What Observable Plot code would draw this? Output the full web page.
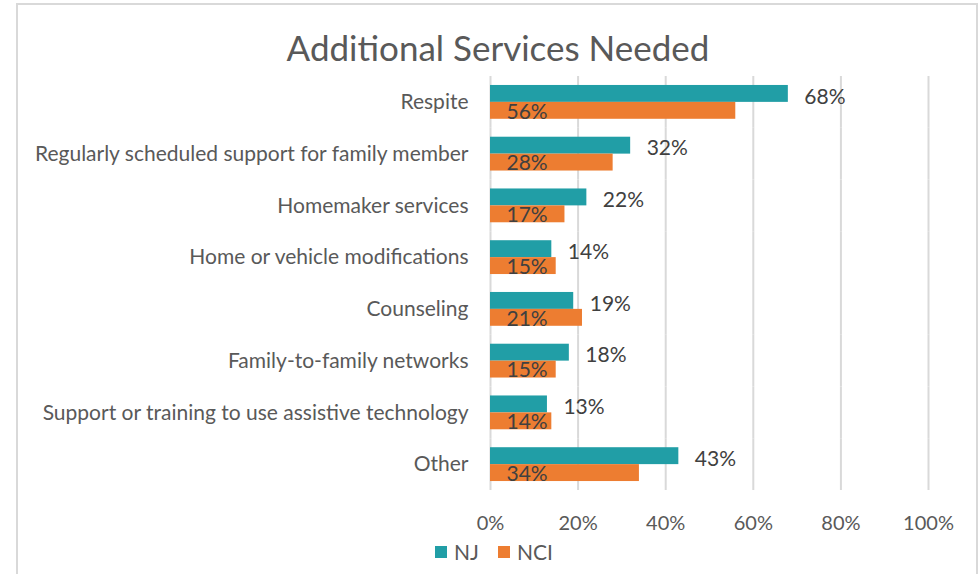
<!DOCTYPE html>
<html>
<head>
<meta charset="utf-8">
<script src="https://cdn.jsdelivr.net/npm/d3@7"></script>
<script src="https://cdn.jsdelivr.net/npm/@observablehq/plot@0.6"></script>
<style>
  html, body { margin: 0; padding: 0; background: #fff; }
  #wrap { position: relative; width: 978px; height: 574px; overflow: hidden; font-family: Lato, "Open Sans", sans-serif; }
  #frame { position: absolute; left: 16px; top: 3px; width: 958px; height: 620px; border: 2px solid #d9d9d9; border-bottom: none; }
  #title { position: absolute; left: 0; width: 996px; top: 27px; text-align: center; font-size: 35px; color: #595959; line-height: 40px; }
  #chart { position: absolute; left: 0; top: 0; }
  #legend { position: absolute; left: 435px; top: 539px; display: flex; align-items: center; font-size: 21px; color: #595959; }
  .sw { width: 12px; height: 12px; display: inline-block; margin-right: 7px; }
  .item { display: flex; align-items: center; margin-right: 19px; }
</style>
</head>
<body>
<div id="wrap">
  <div id="frame"></div>
  <div id="chart"></div>
  <div id="title">Additional Services Needed</div>
  <div id="legend"></div>
</div>
<script>
const categories = [
  "Respite",
  "Regularly scheduled support for family member",
  "Homemaker services",
  "Home or vehicle modifications",
  "Counseling",
  "Family-to-family networks",
  "Support or training to use assistive technology",
  "Other"
];
const seriesNames = ["NJ", "NCI"];
const seriesColors = ["#219EA6", "#ED7D31"];
const njValues  = [0.68, 0.32, 0.22, 0.14, 0.19, 0.18, 0.13, 0.43];
const nciValues = [0.56, 0.28, 0.17, 0.15, 0.21, 0.15, 0.14, 0.34];
const xTicks = [0, 0.2, 0.4, 0.6, 0.8, 1.0];

const data = categories.flatMap((c, i) => [
  {category: c, series: "NJ", value: njValues[i]},
  {category: c, series: "NCI", value: nciValues[i]}
]);
const pct = d3.format(".0%");

const chart = Plot.plot({
  width: 978,
  height: 540,
  marginLeft: 490,
  marginRight: 50,
  marginTop: 76,
  marginBottom: 50,
  style: {fontFamily: "Lato, 'Open Sans', sans-serif", fontSize: "20px", color: "#595959", background: "transparent"},
  x: {domain: [0, 1], ticks: xTicks},
  fy: {domain: categories, padding: 0, round: false, label: null},
  y: {domain: seriesNames, paddingInner: 0, paddingOuter: 0.53, round: false, axis: null},
  color: {domain: seriesNames, range: seriesColors},
  marks: [
    Plot.gridX(xTicks, {stroke: "#d9d9d9", strokeOpacity: 1, strokeWidth: 2}),
    Plot.barX(data, {fy: "category", y: "series", x: "value", fill: "series"}),
    Plot.text(data.filter(d => d.series === "NJ"), {
      fy: "category", y: "series", x: "value", text: d => pct(d.value),
      dx: 16, dy: 3, textAnchor: "start", fill: "#404040", fontSize: 21
    }),
    Plot.text(data.filter(d => d.series === "NCI"), {
      fy: "category", y: "series", x: 0, text: d => pct(d.value),
      dx: 16, dy: 1, textAnchor: "start", fill: "#404040", fontSize: 21
    }),
    Plot.axisX(xTicks, {tickSize: 0, tickPadding: 25, tickFormat: pct, label: null, fill: "#595959", fontSize: 20}),
    Plot.axisFy({anchor: "left", tickSize: 0, tickPadding: 22, label: null, fill: "#595959", fontSize: 21})
  ]
});
document.getElementById("chart").appendChild(chart);

const legend = document.getElementById("legend");
seriesNames.forEach((s, i) => {
  const item = document.createElement("div");
  item.className = "item";
  const sw = document.createElement("span");
  sw.className = "sw";
  sw.style.background = seriesColors[i];
  item.appendChild(sw);
  item.appendChild(document.createTextNode(s));
  legend.appendChild(item);
});
</script>
</body>
</html>
